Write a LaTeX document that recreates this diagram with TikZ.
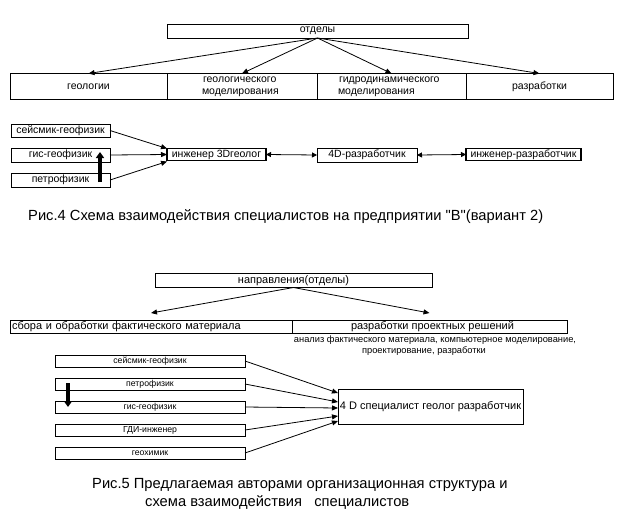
\documentclass[tikz,border=0pt]{standalone}
\usepackage{fontspec}
\setmainfont{Liberation Sans}[Ligatures=TeXOff]
\usetikzlibrary{arrows.meta}
\begin{document}
\begin{tikzpicture}[x=1pt,y=-1pt,
  bx/.style={draw, line width=0.9pt, inner sep=0pt, outer sep=0pt},
  bxthick/.style={bx, line width=1.7pt},
  fA/.style={font=\fontsize{10.5}{12}\selectfont},
  fB/.style={font=\fontsize{11}{13}\selectfont},
  fC/.style={font=\fontsize{8.7}{10}\selectfont},
  fD/.style={font=\fontsize{11}{13}\selectfont},
  fS/.style={font=\fontsize{9.3}{11}\selectfont, inner sep=0pt},
  fE/.style={font=\fontsize{14.7}{17}\selectfont, inner sep=0pt, anchor=west},
  ar/.style={-{Triangle[length=6pt,width=5pt]}, line width=0.8pt},
  dar/.style={{Triangle[length=5pt,width=5pt]}-{Triangle[length=5pt,width=5pt]}, line width=0.8pt},
  thk/.style={-{Triangle[length=6pt,width=8pt]}, line width=3.5pt}]
\useasboundingbox (0,0) rectangle (624,517);
\fill[white] (0,0) rectangle (624,517);

% ---- Fig. 4 top
\node[bx, minimum width=301pt, minimum height=14pt, fA] (otd) at (317.5,31) {отделы};
\node[bx, minimum width=157pt, minimum height=26pt, fA] (c1) at (88.5,86.5) {геологии};
\node[bx, minimum width=150pt, minimum height=26pt, fA, text width=150pt, align=left] (c2) at (242,86.5) {\hspace*{36pt}геологического\\\hspace*{35pt}моделирования};
\node[bx, minimum width=149pt, minimum height=26pt, fA, text width=149pt, align=left] (c3) at (391.5,86.5) {\hspace*{22pt}гидродинамического\\\hspace*{21pt}моделирования};
\node[bx, minimum width=147pt, minimum height=26pt, fA] (c4) at (539.5,86.5) {разработки};
\foreach \c in {c1,c2,c3,c4} \draw[ar] (otd.south) -- (\c.north);

% ---- Fig. 4 middle
\node[bx, minimum width=99pt, minimum height=13pt, fA] (seis) at (60.5,130.5) {сейсмик-геофизик};
\node[bx, minimum width=99pt, minimum height=14pt, fA] (gis) at (60.5,155) {гис-геофизик};
\node[bx, minimum width=99pt, minimum height=14pt, fA] (petro) at (60.5,180) {петрофизик};
\node[bxthick, minimum width=99pt, minimum height=12pt, fA] (i3d) at (216.5,154.5) {инженер 3Dгеолог};
\node[bx, minimum width=100pt, minimum height=14pt, fA] (d4) at (367,155) {4D-разработчик};
\node[bxthick, minimum width=115pt, minimum height=12pt, fA] (iraz) at (523.5,154.5) {инженер-разработчик};
\draw[ar] (seis.east) -- ([yshift=6pt]i3d.west);
\draw[ar] (gis.east) -- (i3d.west);
\draw[ar] (petro.east) -- ([yshift=-7pt]i3d.west);
\draw[dar] (i3d.east) -- (d4.west);
\draw[dar] (d4.east) -- (iraz.west);
\draw[thk] ([xshift=-10pt,yshift=5pt]petro.south east) -- ([xshift=-10pt,yshift=-4pt]gis.north east);

\node[fE] (cap4) at (28,217) {Рис.4 Схема взаимодействия специалистов на предприятии "В"(вариант 2)};

% ---- Fig. 5
\node[bx, minimum width=277pt, minimum height=14pt, fB] (nap) at (293.5,280.5) {направления(отделы)};
\node[bx, minimum width=282pt, minimum height=13pt, fB, text width=282pt, align=left] (sb) at (151,326.5) {\hspace*{2pt}сбора и обработки фактического материала};
\node[bx, minimum width=275pt, minimum height=13pt, fB] (rz) at (429.5,326.5) {\hspace*{6pt}разработки проектных решений};
\draw[ar] (nap.south) -- ([yshift=7pt]sb.north);
\draw[ar] (nap.south) -- ([yshift=7pt]rz.north);
\node[fS] (an1) at (435,340) {анализ фактического материала, компьютерное моделирование,};
\node[fS] (an2) at (424,351) {проектирование, разработки};

\node[bx, minimum width=190pt, minimum height=12pt, fC] (b1) at (150,361) {сейсмик-геофизик};
\node[bx, minimum width=190pt, minimum height=12pt, fC] (b2) at (150,384) {петрофизик};
\node[bx, minimum width=190pt, minimum height=12pt, fC] (b3) at (150,407) {гис-геофизик};
\node[bx, minimum width=190pt, minimum height=12pt, fC] (b4) at (150,430) {ГДИ-инженер};
\node[bx, minimum width=190pt, minimum height=12pt, fC] (b5) at (150,453) {геохимик};
\node[bx, minimum width=185pt, minimum height=35pt, fD] (big) at (430.5,406.5) {4 D специалист геолог разработчик};
\draw[ar] (b1.east) -- ([yshift=13.5pt]big.west);
\draw[ar] (b2.east) -- ([yshift=4.5pt]big.west);
\draw[ar] (b3.east) -- ([yshift=-1.5pt]big.west);
\draw[ar] (b4.east) -- ([yshift=-9.5pt]big.west);
\draw[ar] (b5.east) -- ([yshift=-14.5pt]big.west);
\draw[thk] ([xshift=13pt,yshift=1pt]b2.west) -- ([xshift=13pt]b3.west);

\node[fE] (cap5a) at (92,485) {Рис.5 Предлагаемая авторами организационная структура и};
\node[fE] (cap5b) at (145,503) {схема взаимодействия~~~специалистов};
\end{tikzpicture}
\end{document}
